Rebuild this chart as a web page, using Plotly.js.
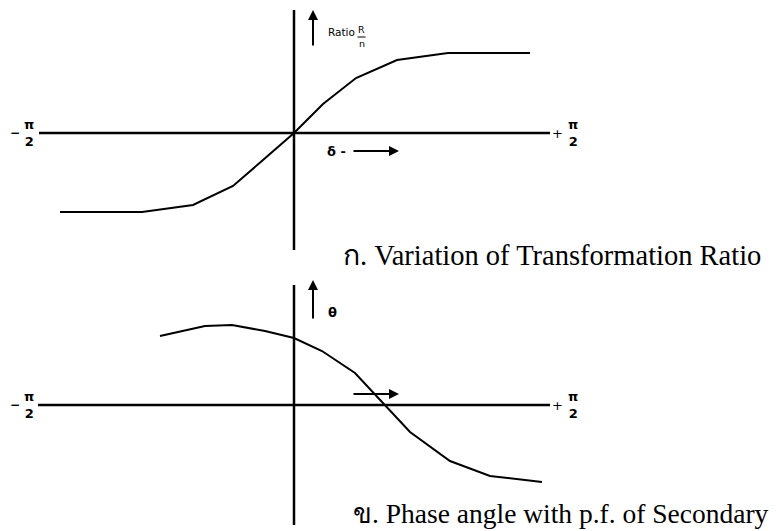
<!DOCTYPE html>
<html>
<head>
<meta charset="utf-8">
<script src="https://cdn.plot.ly/plotly-3.0.1.min.js"></script>
<style>
  html, body { margin: 0; padding: 0; background: #ffffff; }
  #chart { width: 777px; height: 531px; }
</style>
</head>
<body>
<div id="chart"></div>
<script>
// (a) Transformation ratio R/n against load angle delta
const deltaA = [-2.34, -1.52, -1.01, -0.61, -0.31, 0, 0.29, 0.62, 1.03, 1.54, 2.36];
const ratioA = [-0.79, -0.79, -0.72, -0.53, -0.27, 0, 0.29, 0.55, 0.73, 0.80, 0.80];

// (b) Phase angle theta of the secondary against delta
const deltaB = [-1.34, -0.89, -0.62, -0.29, 0, 0.28, 0.61, 0.91, 1.16, 1.56, 1.96, 2.48];
const thetaB = [0.69, 0.79, 0.80, 0.74, 0.67, 0.54, 0.32, 0, -0.27, -0.56, -0.71, -0.77];

// Extents of the drawn axes (horizontal: -pi/2 .. +pi/2)
const hAxisA = [-2.55, 2.56];
const vAxisA = [-1.17, 1.23];
const hAxisB = [-2.56, 2.56];
const vAxisB = [-1.20, 1.20];

const captions = [
  'ก. Variation of Transformation Ratio',
  'ข. Phase angle with p.f. of Secondary'
];

const black = '#000000';
const sansBold = { family: 'DejaVu Sans, Arial, sans-serif', size: 12, color: black };
const fracFont = { family: 'DejaVu Sans, Arial, sans-serif', size: 13, color: black };
const serifA = { family: 'Liberation Serif, Times New Roman, serif', size: 28.5, color: black };
const serifB = { family: 'Liberation Serif, Times New Roman, serif', size: 27.5, color: black };

const traces = [
  { x: deltaA, y: ratioA, xaxis: 'x', yaxis: 'y', mode: 'lines',
    line: { color: black, width: 2 }, hoverinfo: 'skip', showlegend: false },
  { x: deltaB, y: thetaB, xaxis: 'x', yaxis: 'y2', mode: 'lines',
    line: { color: black, width: 2 }, hoverinfo: 'skip', showlegend: false }
];

function axisLine(x0, x1, y0, y1, yref) {
  return { type: 'line', xref: 'x', yref: yref, x0: x0, x1: x1, y0: y0, y1: y1,
           line: { color: black, width: 2.5 } };
}

const shapes = [
  axisLine(hAxisA[0], hAxisA[1], 0, 0, 'y'),
  axisLine(0, 0, vAxisA[0], vAxisA[1], 'y'),
  axisLine(hAxisB[0], hAxisB[1], 0, 0, 'y2'),
  axisLine(0, 0, vAxisB[0], vAxisB[1], 'y2'),
  // fraction bar of R/n
  { type: 'line', xref: 'x', yref: 'y', x0: 0.635, x1: 0.715, y0: 0.96, y1: 0.96,
    line: { color: black, width: 1 } }
];

function label(text, x, y, yref, font, xanchor) {
  return { text: text, x: x, y: y, xref: 'x', yref: yref, showarrow: false,
           xanchor: xanchor || 'center', yanchor: 'middle', font: font };
}

function arrow(xHead, yHead, xTail, yTail, yref) {
  return { text: '', x: xHead, y: yHead, ax: xTail, ay: yTail, xref: 'x', yref: yref,
           axref: 'x', ayref: yref, showarrow: true, arrowhead: 2, arrowsize: 1,
           arrowwidth: 2, arrowcolor: black, standoff: 0, startstandoff: 0 };
}

const piFrac = '<b>π</b><br><b>2</b>';
const annotations = [];
['y', 'y2'].forEach(function (yr) {
  annotations.push(label('<b>−</b>', -2.79, 0, yr, sansBold));
  annotations.push(label(piFrac, -2.65, 0.005, yr, fracFont));
  annotations.push(label('+', 2.63, 0, yr, { family: 'DejaVu Sans, sans-serif', size: 13, color: black }));
  annotations.push(label(piFrac, 2.79, 0.005, yr, fracFont));
});

// panel (a) markings
annotations.push(arrow(0.19, 1.23, 0.19, 0.86, 'y'));
annotations.push(label('Ratio', 0.32, 1.01, 'y', { family: 'DejaVu Sans, sans-serif', size: 10.5, color: black }, 'left'));
annotations.push(label('R', 0.675, 1.04, 'y', { family: 'DejaVu Sans, sans-serif', size: 9.5, color: black }));
annotations.push(label('n', 0.675, 0.90, 'y', { family: 'DejaVu Sans, sans-serif', size: 9.5, color: black }));
annotations.push(label('<b>δ -</b>', 0.31, -0.18, 'y', { family: 'DejaVu Sans, sans-serif', size: 13, color: black }, 'left'));
annotations.push(arrow(1.05, -0.18, 0.58, -0.18, 'y'));
annotations.push(label(captions[0], 0.47, -1.22, 'y', serifA, 'left'));

// panel (b) markings
annotations.push(arrow(0.19, 1.25, 0.19, 0.85, 'y2'));
annotations.push(label('<b>θ</b>', 0.38, 0.93, 'y2', { family: 'DejaVu Sans, sans-serif', size: 13, color: black }));
annotations.push(arrow(1.05, 0.11, 0.58, 0.11, 'y2'));
annotations.push(label(captions[1], 0.57, -1.08, 'y2', serifB, 'left'));

const hidden = { visible: false, fixedrange: true };

const layout = {
  width: 777, height: 531,
  margin: { l: 0, r: 0, t: 0, b: 0 },
  paper_bgcolor: '#ffffff', plot_bgcolor: '#ffffff',
  xaxis: Object.assign({ range: [-2.94, 4.83] }, hidden),
  yaxis: Object.assign({ domain: [0.5, 1], range: [-1.325, 1.33] }, hidden),
  yaxis2: Object.assign({ domain: [0, 0.5], range: [-1.26, 1.395] }, hidden),
  shapes: shapes,
  annotations: annotations,
  showlegend: false
};

Plotly.newPlot('chart', traces, layout, { staticPlot: true, displayModeBar: false });
</script>
</body>
</html>
